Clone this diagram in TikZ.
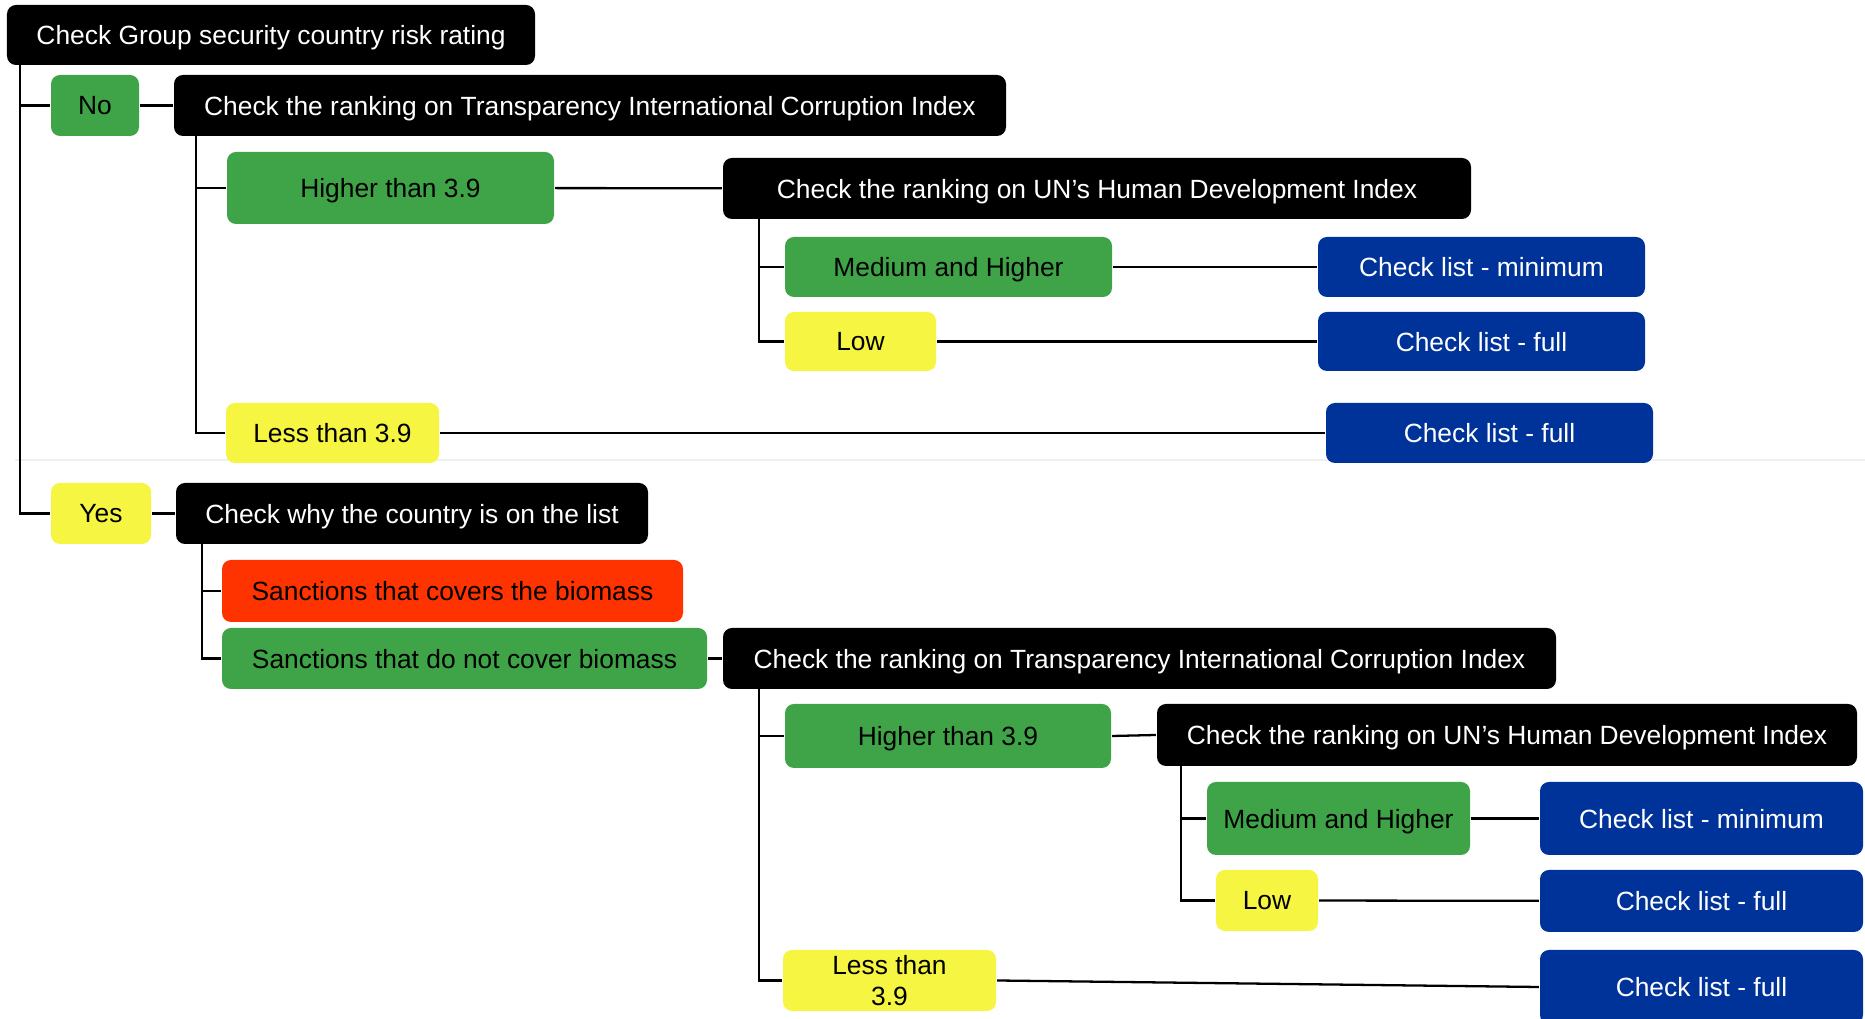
\documentclass[tikz,border=0pt]{standalone}
\usepackage{fontspec}
\setmainfont{Liberation Sans}
\definecolor{qblack}{HTML}{000000}
\definecolor{okgreen}{HTML}{3FA447}
\definecolor{warnyellow}{HTML}{F5F542}
\definecolor{stopred}{HTML}{FF3300}
\definecolor{listblue}{HTML}{003399}
\begin{document}
\begin{tikzpicture}[x=0.01cm, y=-0.01cm, line width=0.65pt,
        sz/.style 2 args={minimum width=#1*0.01cm, minimum height=#2*0.01cm},
        box/.style={rounded corners=0.9mm, inner sep=0pt, align=center, text depth=0pt, font=\fontsize{7.5}{9}\selectfont},
        ask/.style={box, fill=qblack, text=white},
        okbox/.style={box, fill=okgreen, text=black},
        warn/.style={box, fill=warnyellow, text=black},
        stopbox/.style={box, fill=stopred, text=black},
        listbox/.style={box, fill=listblue, text=white}]
    \useasboundingbox (0,0) rectangle (1865,1019);
    \draw[gray!12, line width=0.4pt] (15,460) -- (1865,460);
        \node[ask, sz={528}{60}] (root) at (271,35) {Check Group security country risk rating};
        \node[okbox, sz={88}{61}] (no) at (95,105.5) {No};
        \node[ask, sz={832}{61}] (ti1) at (590,105.5) {Check the ranking on Transparency International Corruption Index};
        \node[okbox, sz={327}{72}] (hi1) at (390.5,188) {Higher than 3.9};
        \node[ask, sz={748}{61}] (hdi1) at (1097,188.5) {Check the ranking on UN’s Human Development Index};
        \node[okbox, sz={327}{60}] (med1) at (948.5,267) {Medium and Higher};
        \node[warn, sz={151}{59}] (low1) at (860.5,341.5) {Low};
        \node[listbox, sz={327}{60}] (clmin1) at (1481.5,267) {Check list - minimum};
        \node[listbox, sz={327}{59}] (clfull1) at (1481.5,341.5) {Check list - full};
        \node[warn, sz={213}{60}] (less1) at (332.5,433) {Less than 3.9};
        \node[listbox, sz={327}{60}] (clfull2) at (1489.5,433) {Check list - full};
        \node[warn, sz={100}{61}] (yes) at (101,513.5) {Yes};
        \node[ask, sz={472}{61}] (why) at (412,513.5) {Check why the country is on the list};
        \node[stopbox, sz={461}{62}] (sanc1) at (452.5,591) {Sanctions that covers the biomass};
        \node[okbox, sz={485}{61}] (sanc2) at (464.5,658.5) {Sanctions that do not cover biomass};
        \node[ask, sz={833}{61}] (ti2) at (1139.5,658.5) {Check the ranking on Transparency International Corruption Index};
        \node[okbox, sz={326}{64}] (hi2) at (948,736) {Higher than 3.9};
        \node[ask, sz={700}{62}] (hdi2) at (1507,735) {Check the ranking on UN’s Human Development Index};
        \node[okbox, sz={263}{73}] (med2) at (1338.5,818.5) {Medium and Higher};
        \node[warn, sz={102}{61}] (low2) at (1267,900.5) {Low};
        \node[listbox, sz={323}{73}] (clmin2) at (1701.5,818.5) {Check list - minimum};
        \node[listbox, sz={323}{62}] (clfull3) at (1701.5,901) {Check list - full};
        \node[warn, sz={213}{61}] (less2) at (889.5,980.5) {Less than\\3.9};
        \node[listbox, sz={323}{74}] (clfull4) at (1701.5,987) {Check list - full};
        \coordinate (rootfoot) at (20,65);
        \coordinate (ti1foot) at (196,136);
        \coordinate (hdi1foot) at (759,219);
        \coordinate (whyfoot) at (202,544);
        \coordinate (ti2foot) at (759,689);
        \coordinate (hdi2foot) at (1181,766);
        \draw (rootfoot) |- (no.west);
        \draw (rootfoot) |- (yes.west);
        \draw (no) -- (ti1);
        \draw (ti1foot) |- (hi1.west);
        \draw (ti1foot) |- (less1.west);
        \draw (hi1) -- (hdi1);
        \draw (hdi1foot) |- (med1.west);
        \draw (hdi1foot) |- (low1.west);
        \draw (med1) -- (clmin1);
        \draw (low1) -- (clfull1);
        \draw (less1) -- (clfull2);
        \draw (yes) -- (why);
        \draw (whyfoot) |- (sanc1.west);
        \draw (whyfoot) |- (sanc2.west);
        \draw (sanc2) -- (ti2);
        \draw (ti2foot) |- (hi2.west);
        \draw (ti2foot) |- (less2.west);
        \draw (hi2.east) -- (hdi2.west);
        \draw (hdi2foot) |- (med2.west);
        \draw (hdi2foot) |- (low2.west);
        \draw (med2) -- (clmin2);
        \draw (low2) -- (clfull3);
        \draw (less2.east) -- (clfull4.west);
    \end{tikzpicture}
\end{document}
